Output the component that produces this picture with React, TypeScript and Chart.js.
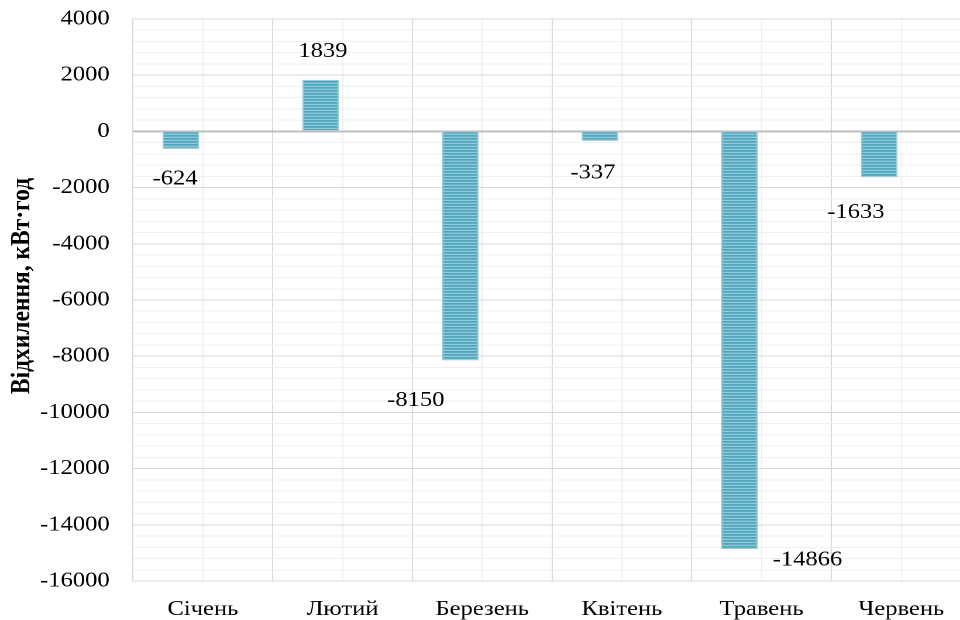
import React, { useEffect, useRef } from "react";
import { Chart, registerables } from "chart.js";

Chart.register(...registerables);

// Monthly deviation of electricity consumption, kWh
const months = ["Січень", "Лютий", "Березень", "Квітень", "Травень", "Червень"];
const deviation = [-624, 1839, -8150, -337, -14866, -1633];
// empty companion series: keeps each bar in the left half of its month slot
const reservedSlot = [null, null, null, null, null, null];
const axisTitle = "Відхилення, кВт·год";

// value-label nudges (px) from the end of each bar
const labelDx = [-5, 2, -38, -6, 58, -20];
const labelDy = [30, -28, 40, 32, 11, 35];

const STRETCH = 1.17;
const CHART_W = 830;
const CHART_H = 620;
const FONT = "'Liberation Serif', 'Times New Roman', serif";
const TEXT_SIZE = 21;

function stripePattern(ctx: CanvasRenderingContext2D): CanvasPattern | string {
  const c = document.createElement("canvas");
  c.width = 4;
  c.height = 3;
  const g = c.getContext("2d");
  if (!g) return "#5aaec4";
  g.fillStyle = "#419db6";
  g.fillRect(0, 0, 4, 1);
  g.fillStyle = "#5aaec4";
  g.fillRect(0, 1, 4, 1);
  g.fillStyle = "#a9d7e3";
  g.fillRect(0, 2, 4, 1);
  return ctx.createPattern(c, "repeat") || "#5aaec4";
}

const valueLabels = {
  id: "valueLabels",
  afterDatasetsDraw(chart: any) {
    const { ctx } = chart;
    const meta = chart.getDatasetMeta(0);
    ctx.save();
    ctx.font = `${TEXT_SIZE}px ${FONT}`;
    ctx.fillStyle = "#000";
    ctx.textAlign = "center";
    ctx.textBaseline = "middle";
    meta.data.forEach((bar: any, i: number) => {
      const v = deviation[i];
      ctx.fillText(String(v), bar.x + labelDx[i], bar.y + labelDy[i]);
    });
    ctx.restore();
  },
};

const yTitle = {
  id: "yTitle",
  afterDraw(chart: any) {
    const { ctx } = chart;
    ctx.save();
    ctx.translate(19, 286);
    ctx.rotate(-Math.PI / 2);
    ctx.font = `bold 23.5px ${FONT}`;
    ctx.fillStyle = "#000";
    ctx.textAlign = "center";
    ctx.textBaseline = "middle";
    ctx.fillText(axisTitle, 0, 0);
    ctx.restore();
  },
};

export default function App() {
  const ref = useRef<HTMLCanvasElement | null>(null);

  useEffect(() => {
    const canvas = ref.current;
    if (!canvas) return;
    const ctx = canvas.getContext("2d");
    if (!ctx) return;
    const fill = stripePattern(ctx);
    const tickFont = { family: FONT, size: TEXT_SIZE };

    const chart = new Chart(canvas, {
      type: "bar",
      data: {
        labels: months,
        datasets: [
          {
            data: deviation,
            backgroundColor: fill as any,
            borderColor: "#8fc8d6",
            borderWidth: 1,
            categoryPercentage: 0.63,
            barPercentage: 0.83,
          },
          {
            data: reservedSlot as any,
            categoryPercentage: 0.63,
            barPercentage: 0.83,
          },
        ],
      },
      plugins: [valueLabels, yTitle],
      options: {
        responsive: false,
        animation: false,
        devicePixelRatio: 2,
        layout: { padding: { top: 19, left: 0, right: 0, bottom: 0 } },
        plugins: {
          legend: { display: false },
          tooltip: { enabled: false },
        },
        scales: {
          x: {
            type: "category",
            offset: true,
            grid: { offset: true, color: "#d9d9d9", lineWidth: 1, drawTicks: false },
            border: { display: false },
            ticks: { font: tickFont, color: "#000", padding: 16, maxRotation: 0 },
            afterFit: (s: any) => {
              s.height = 39;
            },
          },
          x2: {
            type: "category",
            position: "bottom",
            labels: months,
            offset: true,
            grid: { offset: false, color: "#efefef", lineWidth: 1, drawTicks: false },
            border: { display: false },
            ticks: { display: false },
            afterFit: (s: any) => {
              s.height = 0;
            },
          },
          y: {
            min: -16000,
            max: 4000,
            ticks: {
              stepSize: 400,
              autoSkip: false,
              font: tickFont,
              color: "#000",
              padding: 20,
              callback: (v: any) => (Number(v) % 2000 === 0 ? String(v) : ""),
            },
            grid: {
              drawTicks: false,
              color: (c: any) => {
                const v = c.tick ? c.tick.value : 1;
                if (v === 0) return "#bdbdbd";
                return v % 2000 === 0 ? "#d9d9d9" : "#efefef";
              },
              lineWidth: (c: any) => (c.tick && c.tick.value === 0 ? 2 : 1),
            },
            border: { display: true, color: "#d9d9d9" },
            afterFit: (s: any) => {
              s.width = 113.7;
              s.paddingTop = 12;
              s.paddingBottom = 12;
            },
          },
        },
      } as any,
    });
    return () => chart.destroy();
  }, []);

  return (
    <div
      style={{
        position: "absolute",
        left: 0,
        top: 0,
        width: 960,
        height: 620,
        overflow: "hidden",
        background: "#fff",
      }}
    >
      <div
        style={{
          width: CHART_W,
          height: CHART_H,
          transform: `scaleX(${STRETCH})`,
          transformOrigin: "0 0",
        }}
      >
        <canvas
          ref={ref}
          width={CHART_W}
          height={CHART_H}
          style={{ width: CHART_W, height: CHART_H, display: "block" }}
        />
      </div>
    </div>
  );
}
